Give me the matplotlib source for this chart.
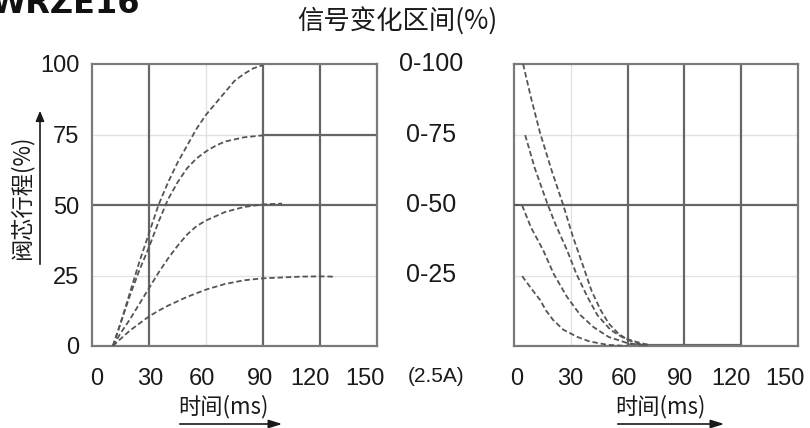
import matplotlib
matplotlib.use("Agg")
import matplotlib.pyplot as plt
from matplotlib.transforms import ScaledTranslation

plt.rcParams['font.family'] = ['Liberation Sans', 'Noto Sans CJK SC', 'DejaVu Sans']
CJK = ['Noto Sans CJK SC', 'DejaVu Sans']

# ---- data -------------------------------------------------------------
time_ticks = [0, 30, 60, 90, 120, 150]
stroke_ticks = [0, 25, 50, 75, 100]
range_labels = ["0-100", "0-75", "0-50", "0-25"]
range_levels = [100, 75, 50, 25]

# rising response (signal step 0 -> x %)
rise_t_100 = [11, 15, 20, 25, 30, 35, 40, 45, 50, 55, 60, 65, 70, 75, 80, 85, 90]
rise_v_100 = [0, 8, 19, 30, 40, 50, 58, 65, 71, 77, 82, 86, 90, 94, 96.5, 98.5, 99.6]
rise_t_75 = [11, 15, 20, 25, 30, 35, 40, 45, 50, 55, 60, 65, 70, 80, 90]
rise_v_75 = [0, 8, 18, 27, 35, 44, 52, 58, 63, 66.5, 69, 71, 72.5, 74, 74.7]
rise_t_50 = [11, 15, 20, 25, 30, 35, 40, 45, 50, 55, 60, 70, 80, 90, 100]
rise_v_50 = [0, 4.5, 9.5, 15, 20.5, 26, 31, 35.5, 39.5, 42.5, 44.5, 47.5, 49.3, 50.2, 50.5]
rise_t_25 = [11, 15, 20, 25, 30, 35, 40, 50, 60, 70, 80, 90, 100, 110, 120, 127]
rise_v_25 = [0, 2.5, 5.5, 8, 10.5, 12.5, 14.3, 17.4, 20, 22, 23.3, 24, 24.3, 24.6, 24.7, 24.6]

# falling response (signal step x -> 0 %)
fall_t_100 = [4.8, 9, 13.8, 20, 26, 31, 36.7, 41, 45.7, 50, 55, 60, 65, 70]
fall_v_100 = [100, 88, 75.5, 62, 50, 39, 28, 19.5, 12.8, 8, 4.5, 2.2, 1, 0.3]
fall_t_75 = [5.9, 11, 17.5, 22, 28, 33, 38.8, 44, 51, 58, 67, 72]
fall_v_75 = [74.8, 63, 50.7, 43, 34, 25.5, 17.4, 11, 5.7, 2.8, 1, 0.3]
fall_t_50 = [0, 4.2, 9, 15.4, 21, 28, 35, 42, 50, 60, 70]
fall_v_50 = [50, 50, 42, 34, 25.5, 17.4, 11, 6.7, 3.2, 1, 0.2]
fall_t_25 = [4.3, 9, 13.8, 17, 20.7, 26, 33.5, 40, 49.5, 60]
fall_v_25 = [24.8, 20.5, 16.3, 12.5, 9.2, 5.8, 3.2, 1.6, 0.4, 0]

# ---- figure -----------------------------------------------------------
W, H = 810, 428
fig = plt.figure(figsize=(W / 100, H / 100), dpi=100)


def px_axes(x0, y0, x1, y1):
    return fig.add_axes([x0 / W, 1 - y1 / H, (x1 - x0) / W, (y1 - y0) / H])


DARK = '#666666'
LIGHT = '#e2e2e2'
CURVE = '#555555'
DASH = dict(color=CURVE, lw=1.3, linestyle=(0, (3.0, 1.6)))


def style(ax, dark_x, light_x, dark_y, light_y, show_y, label_shift):
    ax.set_xlim(0, 150)
    ax.set_ylim(0, 100)
    for x in light_x:
        ax.axvline(x, color=LIGHT, lw=1.0, zorder=1)
    for y in light_y:
        ax.axhline(y, color=LIGHT, lw=1.0, zorder=1)
    for x in dark_x:
        ax.axvline(x, color=DARK, lw=1.6, zorder=2)
    for y in dark_y:
        ax.axhline(y, color=DARK, lw=1.6, zorder=2)
    for s in ax.spines.values():
        s.set_color('#7a7a7a')
        s.set_linewidth(1.6)
    ax.set_xticks(time_ticks)
    ax.set_yticks(stroke_ticks)
    ax.tick_params(length=0, labelsize=17, colors='#1a1a1a')
    ax.tick_params(axis='x', pad=16)
    ax.tick_params(axis='y', pad=9)
    if not show_y:
        ax.set_yticklabels([])
    # the time labels sit slightly packed towards the middle of each panel
    for lbl, dx in zip(ax.get_xticklabels(), label_shift):
        lbl.set_transform(lbl.get_transform() +
                          ScaledTranslation(dx / 100, 0, fig.dpi_scale_trans))


# left panel: switch on
axL = px_axes(92, 64, 377, 346)
style(axL, [30, 90, 120], [60], [50], [25, 75], True, [5, 1, -4, -3, -10, -12])
axL.plot([90, 150], [75, 75], color=DARK, lw=1.6, zorder=2)
axL.plot(rise_t_100, rise_v_100, **DASH, zorder=3)
axL.plot(rise_t_75, rise_v_75, **DASH, zorder=3)
axL.plot(rise_t_50, rise_v_50, **DASH, zorder=3)
axL.plot(rise_t_25, rise_v_25, **DASH, zorder=3)

# right panel: switch off
axR = px_axes(514, 64, 798, 346)
style(axR, [60, 90, 120], [30], [50], [25, 75], False, [3, -1, -4, -4, -10, -13])
axR.plot([60, 120], [0.4, 0.4], color=DARK, lw=1.6, zorder=2)
axR.plot(fall_t_100, fall_v_100, **DASH, zorder=3)
axR.plot(fall_t_75, fall_v_75, **DASH, zorder=3)
axR.plot(fall_t_50, fall_v_50, **DASH, zorder=3)
axR.plot(fall_t_25, fall_v_25, **DASH, zorder=3)

# signal range labels between the panels
for lab, lev in zip(range_labels, range_levels):
    y = axL.transData.transform((0, lev))[1]
    fig.text(431 / W, y / H, lab, fontsize=18, ha='center', va='center',
             color='#1a1a1a')
fig.text(436 / W, 1 - 377 / H, "(2.5A)", fontsize=15, ha='center', va='center',
         color='#1a1a1a')

# title and model code
fig.text(397 / W, 1 - 22 / H, "信号变化区间(%)", fontsize=19, ha='center',
         va='center', family=CJK, color='#1a1a1a')
fig.text(-10 / W, 1 - 13 / H, "WRZE16", fontsize=23, fontweight='bold',
         ha='left', va='baseline', family=['DejaVu Sans'], color='#111111')

# y axis label with arrow
fig.text(22 / W, 1 - 198 / H, "阀芯行程(%)", fontsize=16, rotation=90,
         ha='center', va='center', family=CJK, color='#1a1a1a')
fig.add_artist(matplotlib.patches.FancyArrowPatch(
    (40 / W, 1 - 267 / H), (40 / W, 1 - 108 / H), transform=fig.transFigure,
    arrowstyle='-|>,head_length=6,head_width=2.5', color='#1a1a1a', lw=1.2))

# x axis labels with arrows
for xc, x0, x1 in [(223, 177, 285), (660, 615, 727)]:
    fig.text(xc / W, 1 - 407 / H, "时间(ms)", fontsize=16, ha='center',
             va='center', family=CJK, color='#1a1a1a')
    fig.add_artist(matplotlib.patches.FancyArrowPatch(
        (x0 / W, 1 - 424 / H), (x1 / W, 1 - 424 / H), transform=fig.transFigure,
        arrowstyle='-|>,head_length=8,head_width=2.5', color='#1a1a1a', lw=1.2))

fig.savefig("out.png", dpi=100)
